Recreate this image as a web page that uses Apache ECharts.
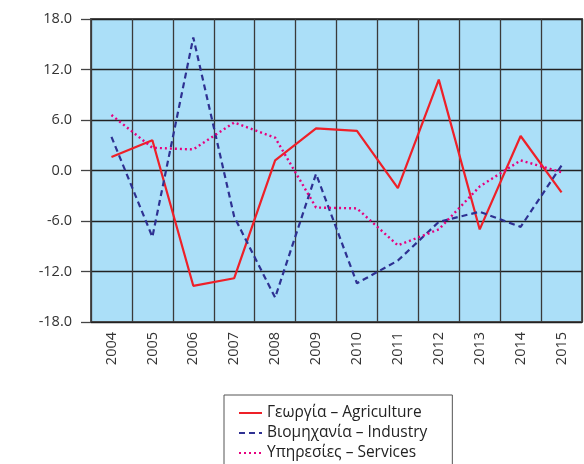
<!DOCTYPE html>
<html>
<head>
<meta charset="utf-8">
<script src="https://cdn.jsdelivr.net/npm/echarts@6/dist/echarts.min.js"></script>
<style>
html,body{margin:0;padding:0;background:#fff;}
#c{width:584px;height:464px;}
</style>
</head>
<body>
<div id="c"></div>
<script>
const years = ['2004','2005','2006','2007','2008','2009','2010','2011','2012','2013','2014','2015'];
const agriculture = [1.6, 3.6, -13.7, -12.8, 1.2, 5.0, 4.7, -2.1, 10.8, -7.0, 4.1, -2.6];
const industry = [4.0, -7.9, 15.8, -5.5, -15.1, -0.4, -13.4, -10.7, -6.1, -4.9, -6.7, 0.6];
const services = [6.6, 2.7, 2.5, 5.7, 3.9, -4.4, -4.5, -8.9, -7.0, -1.9, 1.2, -0.2];
const yTicks = {min: -18, max: 18, interval: 6};
const names = ['Γεωργία – Agriculture', 'Βιομηχανία – Industry', 'Υπηρεσίες – Services'];

const chart = echarts.init(document.getElementById('c'));
const font = 'Open Sans, Liberation Sans, sans-serif';
chart.setOption({
  animation: false,
  grid: {left: 91, right: 2, top: 19, bottom: 142, show: true, backgroundColor: '#ABDFF8', borderColor: '#555', borderWidth: 2},
  legend: {
    orient: 'vertical', left: 224, top: 395, height: 200,
    backgroundColor: '#fff', borderColor: '#555', borderWidth: 1,
    padding: [10, 25, 12, 14], itemGap: 4, itemWidth: 23, itemHeight: 14,
    itemStyle: {opacity: 0},
    textStyle: {fontFamily: font, fontSize: 15.5, color: '#222'},
    data: names
  },
  xAxis: {
    type: 'category', data: years, boundaryGap: true,
    axisLine: {show: false}, axisTick: {show: false},
    axisLabel: {rotate: 90, margin: 10, fontFamily: font, fontSize: 14.5, color: '#333'},
    splitLine: {show: true, lineStyle: {color: '#3a3a3a', width: 1.3}}
  },
  yAxis: {
    type: 'value', min: yTicks.min, max: yTicks.max, interval: yTicks.interval,
    axisLine: {show: false},
    axisTick: {show: true, length: 10, lineStyle: {color: '#444', width: 1.3}},
    axisLabel: {margin: 19, fontFamily: font, fontSize: 14.5, color: '#333', formatter: v => v.toFixed(1)},
    splitLine: {show: true, lineStyle: {color: '#222', width: 1.3}}
  },
  series: [
    {name: names[0], type: 'line', data: agriculture, symbol: 'none', lineStyle: {color: '#EE2028', width: 2.2}, itemStyle: {color: '#EE2028'}},
    {name: names[1], type: 'line', data: industry, symbol: 'none', lineStyle: {color: '#2E3192', width: 2.2, type: [6, 4]}, itemStyle: {color: '#2E3192'}},
    {name: names[2], type: 'line', data: services, symbol: 'none', lineStyle: {color: '#E6007E', width: 2.4, type: [2, 3]}, itemStyle: {color: '#E6007E'}}
  ]
});
</script>
</body>
</html>
